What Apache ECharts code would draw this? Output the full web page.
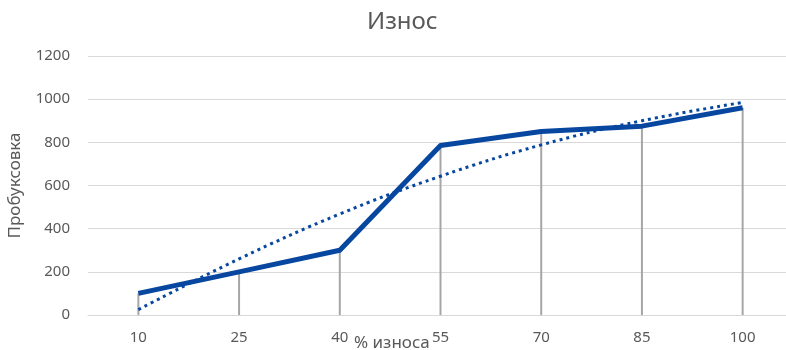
<!DOCTYPE html>
<html>
<head>
<meta charset="utf-8">
<script src="https://cdn.jsdelivr.net/npm/echarts@6/dist/echarts.min.js"></script>
<style>html,body{margin:0;padding:0;background:#fff;}#c{width:786px;height:350px;}</style>
</head>
<body>
<div id="c"></div>
<script>
var categories = ['10', '25', '40', '55', '70', '85', '100'];
var slipValues = [100, 200, 300, 785, 850, 875, 960];
var trendValues = [25, 260, 468, 643, 788, 900, 985];
var yTicks = [0, 200, 400, 600, 800, 1000, 1200];

var FONT = '"Noto Sans", "Open Sans", sans-serif';
var BLUE = '#0747a0';
var chart = echarts.init(document.getElementById('c'), null, {renderer: 'canvas'});
chart.setOption({
  animation: false,
  backgroundColor: '#ffffff',
  title: {
    text: 'Износ',
    left: 362,
    top: 5,
    textStyle: {fontFamily: FONT, fontSize: 24, fontWeight: 'normal', color: '#595959'}
  },
  graphic: [{
    type: 'text',
    left: 354,
    top: 335,
    style: {text: '% износа', fontFamily: FONT, fontSize: 17, fill: '#595959'}
  }],
  grid: {left: 88, top: 56, width: 705, height: 259, outerBoundsMode: 'none', containLabel: false},
  xAxis: {
    type: 'category',
    data: categories,
    axisLine: {lineStyle: {color: '#d9d9d9', width: 1}},
    axisTick: {show: false},
    axisLabel: {fontFamily: FONT, fontSize: 15, color: '#595959', margin: 15},
    splitLine: {show: false}
  },
  yAxis: {
    type: 'value',
    min: yTicks[0],
    max: yTicks[yTicks.length - 1],
    interval: 200,
    name: 'Пробуксовка',
    nameLocation: 'middle',
    nameGap: 64,
    nameTextStyle: {fontFamily: FONT, fontSize: 17, color: '#595959'},
    axisLine: {show: false},
    axisTick: {show: false},
    axisLabel: {fontFamily: FONT, fontSize: 15, color: '#595959', margin: 18,
      formatter: function (v) { return String(v); }},
    splitLine: {lineStyle: {color: '#d9d9d9', width: 1}}
  },
  series: [
    {
      type: 'bar',
      data: slipValues,
      barWidth: 2,
      itemStyle: {color: '#a6a6a6'},
      z: 1,
      silent: true
    },
    {
      type: 'line',
      data: slipValues,
      symbol: 'none',
      lineStyle: {color: BLUE, width: 5, join: 'round'},
      z: 3
    },
    {
      type: 'line',
      data: trendValues,
      symbol: 'none',
      smooth: 0.4,
      lineStyle: {color: BLUE, width: 3, type: [3, 4]},
      z: 4
    }
  ]
});
</script>
</body>
</html>
